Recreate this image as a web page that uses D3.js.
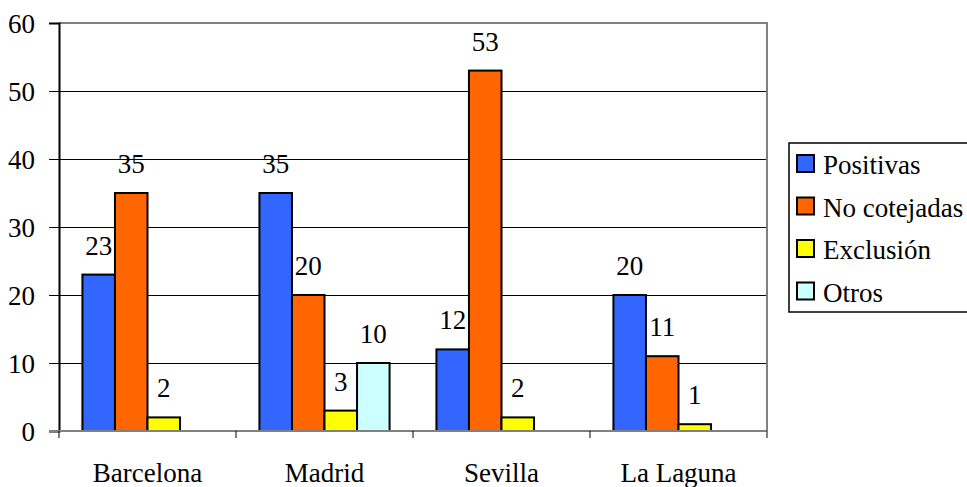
<!DOCTYPE html>
<html><head><meta charset="utf-8">
<script src="https://cdn.jsdelivr.net/npm/d3@7"></script>
<style>body{margin:0;background:#fff}svg{display:block}</style>
</head><body><svg id="c" width="967" height="487"></svg>
<script>
const categories = ["Barcelona","Madrid","Sevilla","La Laguna"];
const seriesNames = ["Positivas","No cotejadas","Exclusión","Otros"];
const positivas = [23,35,12,20];
const noCotejadas = [35,20,53,11];
const exclusion = [2,3,2,1];
const otros = [null,10,null,null];
const colors = ["#3366ff","#ff6600","#ffff00","#ccffff"];
const yTicks = [0,10,20,30,40,50,60];

const series = [positivas,noCotejadas,exclusion,otros];
const svg = d3.select("#c");
const L=59,R=767,T=23,B=431;
const FS = "27px", FAM = "'Liberation Serif','Times New Roman',Times,serif";
const x0 = d3.scaleBand().domain(categories).range([L,R]).paddingInner(0).paddingOuter(0);
const x1 = d3.scaleBand().domain(seriesNames).range([0,x0.bandwidth()]).paddingInner(0).paddingOuter(0.72);
const y = d3.scaleLinear().domain([0,60]).range([B,T]);
function ft(sel){ return sel.style("font-family",FAM).style("font-size",FS).style("fill","#000"); }

svg.append("g").selectAll("line").data(yTicks.filter(d=>d>0&&d<60)).join("line")
  .attr("x1",L).attr("x2",R).attr("y1",d=>y(d)).attr("y2",d=>y(d))
  .attr("stroke","#000").attr("stroke-width",1).attr("shape-rendering","crispEdges");
svg.append("line").attr("x1",L).attr("x2",R+1).attr("y1",y(60)).attr("y2",y(60)).attr("stroke","#808080").attr("stroke-width",2);
svg.append("line").attr("x1",R).attr("x2",R).attr("y1",T).attr("y2",B).attr("stroke","#808080").attr("stroke-width",2);

const g = svg.append("g");
categories.forEach((c,ci)=>{
  seriesNames.forEach((s,si)=>{
    const v = series[si][ci];
    if(v==null) return;
    const bx = x0(c)+x1(s);
    g.append("rect").attr("x",bx).attr("y",y(v)).attr("width",x1.bandwidth()).attr("height",B-y(v))
      .attr("fill",colors[si]).attr("stroke","#000").attr("stroke-width",2);
    ft(g.append("text").attr("x",bx+x1.bandwidth()/2).attr("y",y(v)-20).attr("text-anchor","middle")).text(v);
  });
});

const ya = svg.append("g").attr("transform",`translate(${L},0)`)
  .call(d3.axisLeft(y).tickValues(yTicks).tickSize(10).tickPadding(14));
ya.select(".domain").attr("stroke","#000").attr("stroke-width",2);
ya.selectAll(".tick line").attr("stroke","#000");
ft(ya.selectAll("text")).attr("dy","0.34em");

svg.append("line").attr("x1",L-10).attr("x2",R).attr("y1",B).attr("y2",B).attr("stroke","#808080").attr("stroke-width",2);
const xt = categories.map(c=>x0(c)).concat([R]);
svg.append("g").selectAll("line").data(xt).join("line")
  .attr("x1",d=>d).attr("x2",d=>d).attr("y1",B).attr("y2",B+7).attr("stroke","#000").attr("stroke-width",1);
ft(svg.append("g").selectAll("text").data(categories).join("text")
  .attr("x",d=>x0(d)+x0.bandwidth()/2).attr("y",482).attr("text-anchor","middle")).text(d=>d);

const lg = svg.append("g");
lg.append("rect").attr("x",789).attr("y",143).attr("width",190).attr("height",169).attr("fill","#fff").attr("stroke","#000").attr("stroke-width",1.5);
seriesNames.forEach((s,i)=>{
  const top = 155 + i*42.5;
  lg.append("rect").attr("x",797).attr("y",top).attr("width",17).attr("height",17).attr("fill",colors[i]).attr("stroke","#000").attr("stroke-width",2);
  ft(lg.append("text").attr("x",823).attr("y",top+19)).text(s);
});
</script></body></html>
